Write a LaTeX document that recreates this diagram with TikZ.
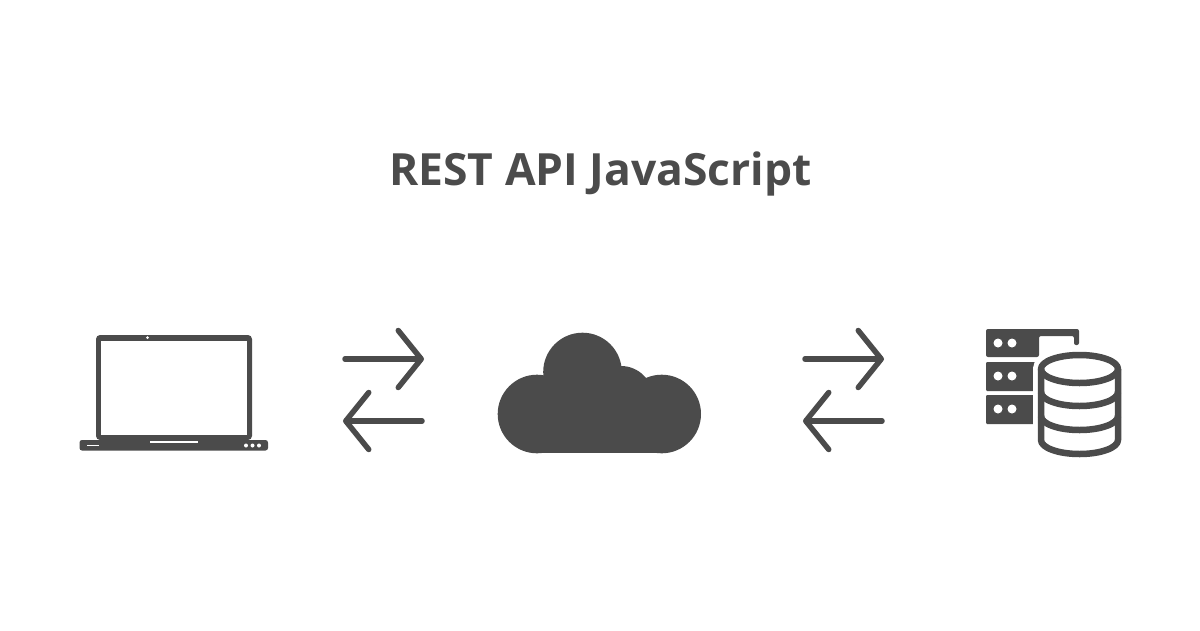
\documentclass[tikz,border=0pt]{standalone}
\usepackage{fontspec}
\setmainfont{Open Sans}
\usetikzlibrary{arrows.meta}
\definecolor{icon}{HTML}{4B4B4B}

\begin{document}
\begin{tikzpicture}[x=1pt,y=-1pt]
\tikzstyle{exchange}=[draw=icon,line width=5.5pt,line cap=round,-{Straight Barb[length=23pt,width=57pt,round]}]
\tikzstyle{solid}=[fill=icon,draw=none]
\tikzstyle{hole}=[fill=white,draw=none]
\tikzstyle{drum}=[draw=icon,line width=6.5pt,line join=round]
\useasboundingbox (0,0) rectangle (1200,630);
\node[text=icon,anchor=base,font=\bfseries\fontsize{44.4}{52}\selectfont] (title) at (600.5,185) {REST API JavaScript};
% laptop
\fill[solid,rounded corners=4pt] (96,440) -- (96,335) -- (252,335) -- (252,440) -- cycle;
\fill[hole] (101,341) rectangle (247,435);
\fill[solid,rounded corners=2.5pt] (79.5,440) rectangle (268,450.5);
\fill[hole] (150,440.7) rectangle (198,442.7);
\fill[hole] (87,444.7) rectangle (99,446.2);
\fill[hole] (147.5,337.7) circle (1.5);
\foreach \dotx in {246,252.5,259} \fill[hole] (\dotx,445.5) circle (2);
% cloud
\foreach \cx/\cy/\cr in {537/414/39.3,661.7/414/39.3,582.5/372/39.3,621/398/32} \fill[solid] (\cx,\cy) circle (\cr);
\fill[solid] (537,390) rectangle (661.7,453.3);
% servers
\fill[solid,rounded corners=2pt] (986,357) -- (986,329) -- (1079,329) -- (1079,345) -- (1074,345) -- (1074,336) -- (1039,336) -- (1039,357) -- cycle;
\fill[solid,rounded corners=1pt] (986,362) rectangle (1040,391);
\fill[solid,rounded corners=1pt] (986,395) rectangle (1040,424);
\foreach \rowy in {343,376,409} {
  \fill[hole] (998,\rowy) circle (4.5);
  \fill[hole] (1012,\rowy) circle (4.5);
}
% database
\draw[draw=white,fill=white,line width=16pt] (1041,369) arc[start angle=180,end angle=360,x radius=38.5,y radius=14] -- (1118,440) arc[start angle=0,end angle=180,x radius=38.5,y radius=14] -- cycle;
\draw[drum] (1079.5,369) ellipse[x radius=38.5,y radius=14];
\draw[drum] (1041,369) -- (1041,440) arc[start angle=180,end angle=0,x radius=38.5,y radius=14] -- (1118,369);
\foreach \bandy in {392,416} \draw[drum] (1041,\bandy) arc[start angle=180,end angle=0,x radius=38.5,y radius=14];
% arrows
\coordinate (lefttopa) at (345,359);
\coordinate (lefttopb) at (424,359);
\coordinate (leftbota) at (422,421);
\coordinate (leftbotb) at (343,421);
\coordinate (righttopa) at (805,359);
\coordinate (righttopb) at (884,359);
\coordinate (rightbota) at (882,421);
\coordinate (rightbotb) at (803,421);
\draw[exchange] (lefttopa) -- (lefttopb);
\draw[exchange] (leftbota) -- (leftbotb);
\draw[exchange] (righttopa) -- (righttopb);
\draw[exchange] (rightbota) -- (rightbotb);
\end{tikzpicture}
\end{document}
